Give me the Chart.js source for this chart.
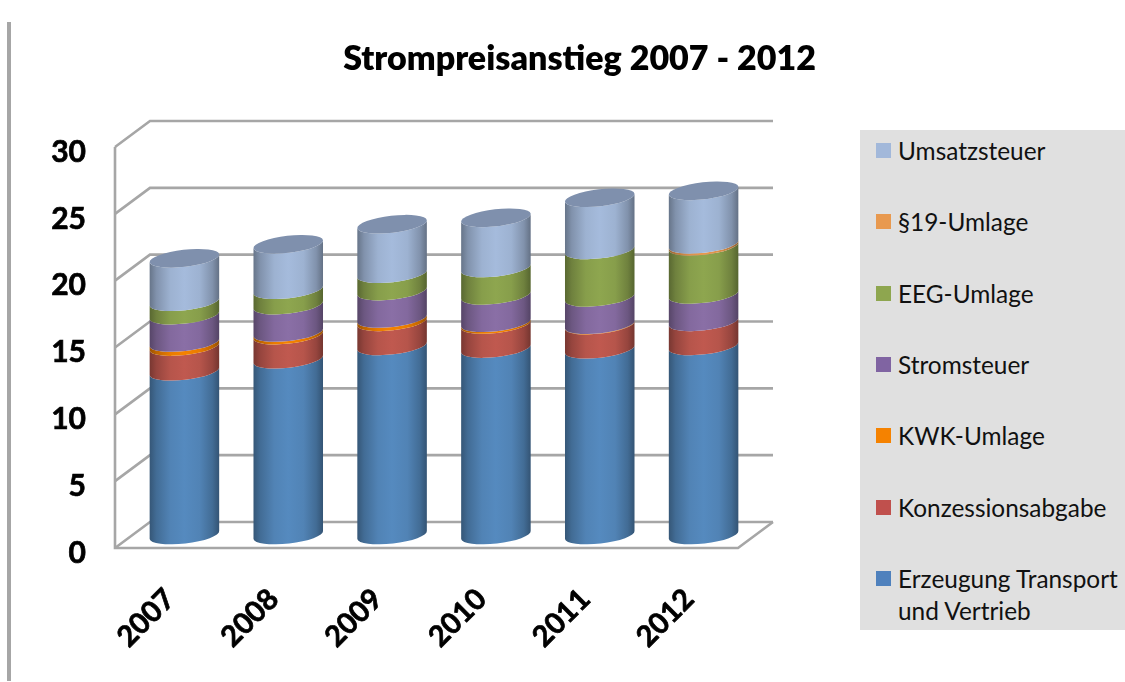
<!DOCTYPE html>
<html>
<head>
<meta charset="utf-8">
<script src="https://cdn.jsdelivr.net/npm/chart.js@4"></script>
<style>
    body { margin: 0; background: #fff; width: 1125px; height: 682px; overflow: hidden; position: relative; }
    #frame { position: absolute; left: 7px; top: 22px; width: 4px; height: 659px; background: #a6a6a6; }
    #chart { position: absolute; left: 0; top: 0; }
    #legend { position: absolute; left: 860px; top: 130px; width: 265px; height: 500px; background: #e0e0e0;
              font: 24.4px Lato, sans-serif; color: #111; }
    #legend div { position: absolute; left: 38px; line-height: 32px; white-space: pre; }
    #legend i { position: absolute; left: -22px; top: 8px; width: 15px; height: 15px; }
</style>
</head>
<body>
<div id="frame"></div>
<canvas id="chart" width="1125" height="682"></canvas>
<div id="legend"></div>
<script>
const years = ['2007', '2008', '2009', '2010', '2011', '2012'];
const yTicks = [0, 5, 10, 15, 20, 25, 30];

const erzeugung = [12.25, 13.15, 14.15, 13.95, 13.9, 14.15];
const konzession = [1.85, 1.8, 1.8, 1.8, 1.8, 1.8];
const kwk = [0.3, 0.2, 0.25, 0.13, 0.03, 0];
const stromsteuer = [2.05, 2.05, 2.05, 2.05, 2.05, 2.05];
const eeg = [1.0, 1.15, 1.3, 2.05, 3.55, 3.6];
const paragraph19 = [0, 0, 0, 0, 0, 0.15];
const umsatzsteuer = [3.25, 3.4, 3.7, 3.75, 3.9, 4.0];

const seriesNames = ['Erzeugung Transport\nund Vertrieb', 'Konzessionsabgabe', 'KWK-Umlage', 'Stromsteuer', 'EEG-Umlage', '§19-Umlage', 'Umsatzsteuer'];
const seriesValues = [erzeugung, konzession, kwk, stromsteuer, eeg, paragraph19, umsatzsteuer];
const seriesColors = ['#558abf', '#c0594f', '#f58200', '#8a6fa6', '#8ea64f', '#e8994f', '#a5bbdc'];
const legendColors = ['#4f81bd', '#c0504d', '#f58200', '#8064a2', '#8ea64f', '#e8994f', '#a2b8da'];

// depth of the fake 3D box, bars stand halfway into it
const DEPTH_X = 35, DEPTH_Y = 26;
const GRID = '#a6a6a6';
const CYL_RY = 8.5, CYL_ROT = -0.115;

function shade(hex, f) {
    const n = parseInt(hex.slice(1), 16);
    const c = [n >> 16, (n >> 8) & 255, n & 255].map(v => Math.round(v * f));
    return `rgb(${c[0]},${c[1]},${c[2]})`;
}

function line(ctx, pts) {
    ctx.beginPath();
    pts.forEach((p, i) => i ? ctx.lineTo(p[0], p[1]) : ctx.moveTo(p[0], p[1]));
    ctx.stroke();
}

function drawSegment(ctx, cx, yBase, yTop, rx, color) {
    const g = ctx.createLinearGradient(cx - rx, 0, cx + rx, 0);
    g.addColorStop(0, shade(color, 0.62));
    g.addColorStop(0.1, shade(color, 0.78));
    g.addColorStop(0.3, shade(color, 0.95));
    g.addColorStop(0.5, shade(color, 1));
    g.addColorStop(0.72, shade(color, 0.95));
    g.addColorStop(0.9, shade(color, 0.78));
    g.addColorStop(1, shade(color, 0.6));
    ctx.beginPath();
    ctx.ellipse(cx, yBase, rx, CYL_RY, CYL_ROT, Math.PI, 0, true);
    ctx.ellipse(cx, yTop, rx, CYL_RY, CYL_ROT, 0, Math.PI, false);
    ctx.closePath();
    ctx.fillStyle = g;
    ctx.fill();
}

const box3d = {
    id: 'box3d',
    beforeDraw(chart) {
        // title sits over the whole picture, not over the plot
        chart.titleBlock.left = 34;
        chart.titleBlock.right = 1125;
    },
    beforeDatasetsDraw(chart) {
        const { ctx, chartArea: a, scales } = chart;
        ctx.save();
        ctx.strokeStyle = GRID;
        ctx.lineWidth = 2.6;
        yTicks.forEach(v => {
            const y = scales.y.getPixelForValue(v);
            line(ctx, [[a.left, y], [a.left + DEPTH_X, y - DEPTH_Y], [a.right + DEPTH_X, y - DEPTH_Y]]);
        });
        // left wall edge and floor front
        line(ctx, [[a.left, a.top], [a.left, a.bottom], [a.right, a.bottom], [a.right + DEPTH_X, a.bottom - DEPTH_Y]]);
        ctx.restore();
    },
    afterDatasetsDraw(chart) {
        const ctx = chart.ctx;
        ctx.save();
        chart.data.labels.forEach((label, i) => {
            let top = null;
            chart.data.datasets.forEach((ds, d) => {
                if (ds.data[i] <= 0) return;
                const bar = chart.getDatasetMeta(d).data[i];
                const cx = bar.x + DEPTH_X / 2;
                const yTop = bar.y - DEPTH_Y / 2;
                const rx = bar.width / 2;
                drawSegment(ctx, cx, bar.base - DEPTH_Y / 2, yTop, rx, seriesColors[d]);
                top = { cx, yTop, rx };
            });
            // lid of the cylinder
            ctx.beginPath();
            ctx.ellipse(top.cx, top.yTop, top.rx, CYL_RY, CYL_ROT, 0, Math.PI * 2);
            ctx.fillStyle = '#7f90ad';
            ctx.fill();
        });
        ctx.restore();
    }
};

const chart = new Chart(document.getElementById('chart').getContext('2d'), {
    type: 'bar',
    data: {
        labels: years,
        datasets: seriesNames.map((name, i) => ({
            label: name,
            data: seriesValues[i],
            // flat bars stay invisible, the plugin paints the cylinders over them
            backgroundColor: 'rgba(0,0,0,0)',
            borderWidth: 0
        }))
    },
    options: {
        responsive: false,
        animation: false,
        layout: { padding: { left: 34, right: 387, top: 0, bottom: 0 } },
        datasets: { bar: { barPercentage: 0.674, categoryPercentage: 1 } },
        scales: {
            x: {
                stacked: true,
                grid: { display: false },
                border: { display: false },
                ticks: { minRotation: 45, maxRotation: 45, padding: 26, labelOffset: 3, color: '#000', font: { family: 'Lato', weight: 'bold', size: 29 }, textStrokeColor: '#000', textStrokeWidth: 0.7 },
                afterFit(scale) { scale.height = 134; }
            },
            y: {
                stacked: true,
                min: 0,
                max: 30,
                afterBuildTicks(scale) { scale.ticks = yTicks.map(v => ({ value: v })); },
                grid: { display: false },
                border: { display: false },
                ticks: { padding: 21, labelOffset: 5, color: '#000', font: { family: 'Lato', weight: 'bold', size: 30 }, textStrokeColor: '#000', textStrokeWidth: 0.7 },
                afterFit(scale) { scale.width = 81; }
            }
        },
        plugins: {
            legend: { display: false },
            tooltip: { enabled: false },
            title: {
                display: true,
                text: 'Strompreisanstieg 2007 - 2012',
                color: '#000',
                font: { family: 'Lato', weight: 800, size: 34, lineHeight: 1.2 },
                padding: { top: 39, bottom: 67.2 }
            }
        }
    },
    plugins: [box3d]
});

// legend, top entry is the last series
const legendRows = [21, 92, 164, 235, 306, 378, 449];
const legendEl = document.getElementById('legend');
chart.data.datasets.slice().reverse().forEach((ds, i) => {
    const row = document.createElement('div');
    row.style.top = (legendRows[i] - 16) + 'px';
    row.textContent = ds.label;
    const swatch = document.createElement('i');
    swatch.style.background = legendColors[legendColors.length - 1 - i];
    row.appendChild(swatch);
    legendEl.appendChild(row);
});
</script>
</body>
</html>
